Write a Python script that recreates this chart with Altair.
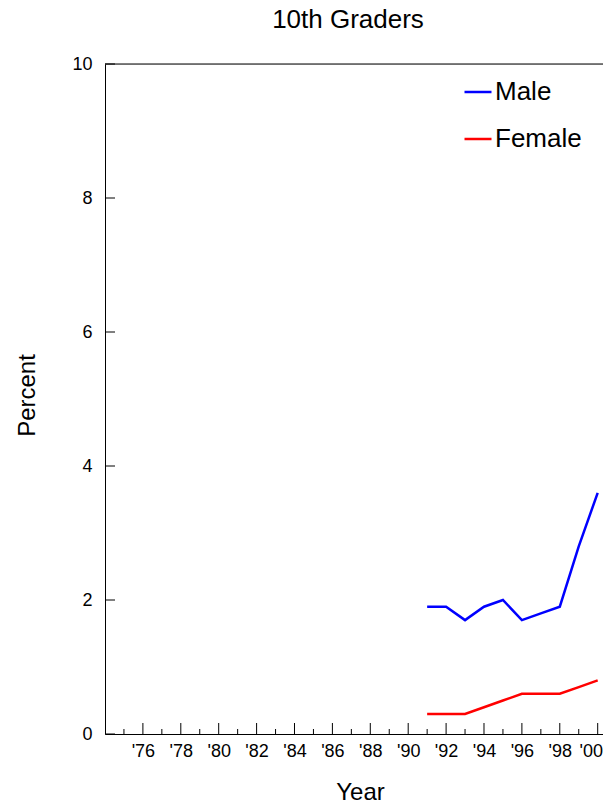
import altair as alt
import pandas as pd

years = [1991, 1992, 1993, 1994, 1995, 1996, 1997, 1998, 1999, 2000]
male = [1.9, 1.9, 1.7, 1.9, 2.0, 1.7, 1.8, 1.9, 2.8, 3.6]
female = [0.3, 0.3, 0.3, 0.4, 0.5, 0.6, 0.6, 0.6, 0.7, 0.8]
series = ["Male", "Female"]
colors = ["#0000ff", "#ff0000"]

major_tick_years = list(range(1974, 2001, 2))
minor_tick_years = list(range(1975, 2001, 2))
label_years = list(range(1976, 2001, 2))
y_ticks = [0, 2, 4, 6, 8, 10]

W, H = 498, 670
FONT = "Liberation Sans"

df = pd.DataFrame(
    {"Year": years * 2,
     "Percent": male + female,
     "Group": ["Male"] * len(years) + ["Female"] * len(years)}
)

xscale = alt.Scale(domain=[1974, 2000.28], nice=False, zero=False)
yscale = alt.Scale(domain=[0, 10], nice=False)

xaxis = alt.Axis(
    values=label_years, ticks=False, grid=False,
    labelExpr="\"'\" + format(datum.value % 100, '02d')",
    labelFontSize=18, labelFont=FONT, labelColor="black", labelPadding=8,
    labelOffset={"condition": {"test": "datum.value == 2000", "value": -7}, "value": 0},
    domainColor="black", domainWidth=1,
    title="Year", titleFont=FONT, titleFontSize=24, titleFontWeight="normal",
    titleColor="black", titleX=255, titleY=65, titleBaseline="alphabetic",
    titleAlign="center",
)
yaxis = alt.Axis(
    values=y_ticks, ticks=False, grid=False, format="d",
    labelFontSize=18, labelFont=FONT, labelColor="black", labelPadding=13,
    domainColor="black", domainWidth=1,
    title="Percent", titleFont=FONT, titleFontSize=24, titleFontWeight="normal",
    titleColor="black", titleX=-71, titleY=331, titleBaseline="alphabetic",
    titleAlign="center", titleAngle=-90,
)

lines = alt.Chart(df).mark_line(strokeWidth=2.5, clip=True).encode(
    x=alt.X("Year:Q", scale=xscale, axis=xaxis),
    y=alt.Y("Percent:Q", scale=yscale, axis=yaxis),
    color=alt.Color(
        "Group:N",
        scale=alt.Scale(domain=series, range=colors),
        legend=alt.Legend(
            title=None, orient="none", legendX=358, legendY=13,
            symbolType="stroke", symbolSize=729, symbolStrokeWidth=2.5,
            labelFontSize=26, labelFont=FONT, labelColor="black",
            labelOffset=2, rowPadding=19, padding=0,
        ),
    ),
)

major = alt.Chart(pd.DataFrame({"t": major_tick_years})).mark_rule(
    color="black", strokeWidth=1, clip=True
).encode(x=alt.X("t:Q", scale=xscale), y=alt.value(H), y2=alt.value(H - 11))

minor = alt.Chart(pd.DataFrame({"t": minor_tick_years})).mark_rule(
    color="black", strokeWidth=1, clip=True
).encode(x=alt.X("t:Q", scale=xscale), y=alt.value(H), y2=alt.value(H - 5))

yt = alt.Chart(pd.DataFrame({"v": y_ticks})).mark_rule(
    color="black", strokeWidth=1
).encode(y=alt.Y("v:Q", scale=yscale), x=alt.value(0), x2=alt.value(10))

top = alt.Chart(pd.DataFrame({"v": [10]})).mark_rule(
    color="black", strokeWidth=1
).encode(y=alt.Y("v:Q", scale=yscale), x=alt.value(0), x2=alt.value(W))

chart = alt.layer(major, minor, yt, top, lines).properties(
    width=W, height=H,
    autosize=alt.AutoSizeParams(type="none"),
    padding={"left": 97, "top": 56, "right": 0, "bottom": 66},
    title=alt.Title(
        "10th Graders", font=FONT, fontSize=26, fontWeight="normal",
        color="black", anchor="middle", dx=-6, baseline="alphabetic", offset=1,
    ),
).configure_view(stroke=None).configure(background="white")

chart.save("out.html", embed_options={"renderer": "svg", "actions": False})
